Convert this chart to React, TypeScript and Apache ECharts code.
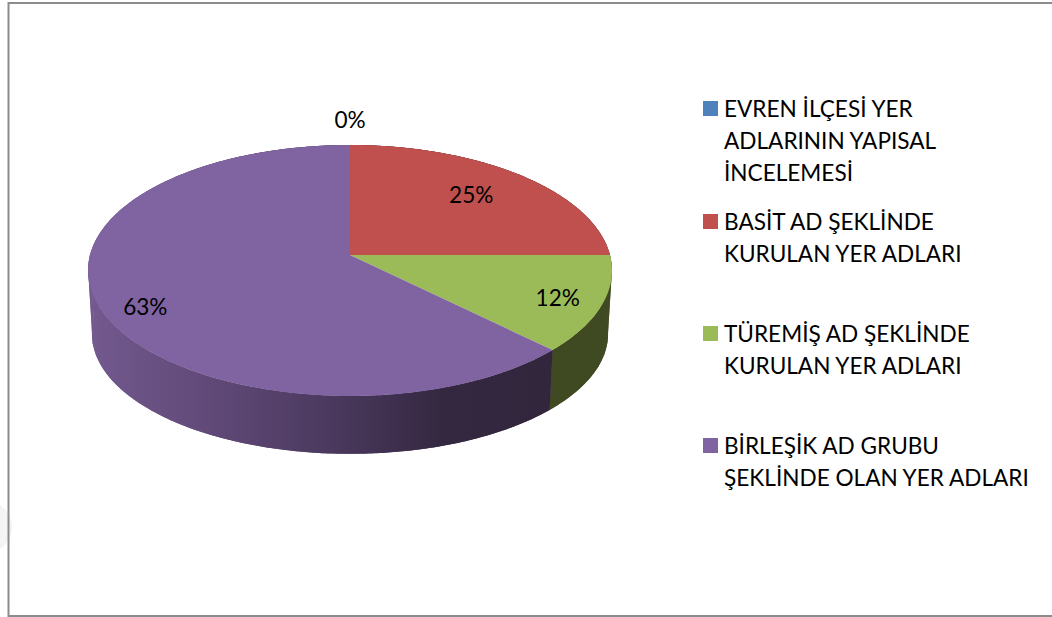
import React, { useEffect, useRef } from "react";
import * as echarts from "echarts";

const sliceNames = [
  "EVREN İLÇESİ YER\nADLARININ YAPISAL\nİNCELEMESİ",
  "BASİT AD ŞEKLİNDE\nKURULAN YER ADLARI",
  "TÜREMİŞ AD ŞEKLİNDE\nKURULAN YER ADLARI",
  "BİRLEŞİK AD GRUBU\nŞEKLİNDE OLAN YER ADLARI",
];
const sliceValues = [0, 25, 12.4, 62.6];
const topColors = ["#4f81bd", "#c0504d", "#9bbb59", "#8064a2"];

// layout
const legendLineY = [108, 221, 333, 445];
const labelRadius = [1.27, 0.7, 0.83, 0.82];
const labelDy = [0, -3, 2, 11];
const FONT = "Lato, 'Noto Sans', sans-serif";
const FONT_SIZE = 22.6;

// perspective projection of a unit disc
const CX = 350, CY = 255, A = 260, B = 123.6, K = 0.1235;
const project = (theta: number, f = 1): [number, number] => {
  const u = Math.sin(theta) * f;
  const v = -Math.cos(theta) * f;
  const d = 1 - K * v;
  return [CX + (A * u) / d, CY + (B * v) / d];
};
const lower = ([x, y]: [number, number]): [number, number] => [
  CX + (x - CX) * 0.985,
  334 + (y - 270.5) * 0.955,
];
const total = sliceValues.reduce((a, b) => a + b, 0);
const angleOf = (i: number) =>
  (sliceValues.slice(0, i).reduce((a, b) => a + b, 0) / total) * Math.PI * 2;
const arc = (a0: number, a1: number, step = 0.01) => {
  const n = Math.max(2, Math.ceil((a1 - a0) / step));
  const pts: [number, number][] = [];
  for (let i = 0; i <= n; i++) pts.push(project(a0 + ((a1 - a0) * i) / n));
  return pts;
};

const purpleSide = {
  type: "linear", global: true, x: 90, y: 0, x2: 610, y2: 0,
  colorStops: [
    { offset: 0, color: "#73598e" },
    { offset: 0.2, color: "#634b7b" },
    { offset: 0.45, color: "#4c3a60" },
    { offset: 0.68, color: "#342841" },
    { offset: 1, color: "#302539" },
  ],
};
const sideColors: any[] = ["#2a4263", "#662a28", "#404a22", purpleSide];

export default function App() {
  const ref = useRef<HTMLDivElement>(null);
  useEffect(() => {
    document.body.style.margin = "0";
    const chart = echarts.init(ref.current!, null, { renderer: "svg" });
    const data = sliceValues.map((v) => [v]);
    const graphic: any[] = [
      { type: "circle", shape: { cx: -14, cy: 527, r: 26 }, style: { fill: "#f4f4f4" }, z: 0 },
      { type: "line", shape: { x1: 8, y1: 3, x2: 1052, y2: 3 }, style: { stroke: "#8c8c8c", lineWidth: 2 } },
      { type: "line", shape: { x1: 8.5, y1: 2, x2: 8.5, y2: 617 }, style: { stroke: "#8c8c8c", lineWidth: 2 } },
      { type: "line", shape: { x1: 8, y1: 616, x2: 1052, y2: 616 }, style: { stroke: "#8c8c8c", lineWidth: 2 } },
    ];
    sliceNames.forEach((name, i) => {
      graphic.push({
        type: "rect",
        shape: { x: 703, y: legendLineY[i] - 7, width: 15, height: 15 },
        style: { fill: topColors[i] },
      });
      graphic.push({
        type: "text",
        x: 724,
        y: legendLineY[i] - 16,
        style: {
          text: name,
          fill: "#000",
          font: `${FONT_SIZE}px ${FONT}`,
          lineHeight: 32,
          align: "left",
          verticalAlign: "top",
        },
      });
    });
    chart.setOption({
      animation: false,
      backgroundColor: "#fff",
      graphic,
      series: [
        {
          type: "custom",
          coordinateSystem: "none",
          z: 1,
          data,
          renderItem: (params: any) => {
            const i = params.dataIndex;
            const a0 = angleOf(i), a1 = angleOf(i + 1);
            if (a1 <= a0) return { type: "group", children: [] };
            const top = arc(a0, a1);
            const children: any[] = [
              {
                type: "polygon",
                shape: { points: [...top, ...top.map(lower).reverse()] },
                style: { fill: sideColors[i] },
              },
            ];
            // ribs so that the wall also fills the straight silhouette edges
            const coarse = arc(a0, a1, 0.1);
            for (let k = 0; k < coarse.length - 1; k++) {
              children.push({
                type: "polygon",
                shape: {
                  points: [coarse[k], coarse[k + 1], lower(coarse[k + 1]), lower(coarse[k])],
                },
                style: { fill: sideColors[i] },
              });
            }
            return { type: "group", children };
          },
        },
        {
          type: "custom",
          coordinateSystem: "none",
          z: 2,
          data,
          renderItem: (params: any, api: any) => {
            const i = params.dataIndex;
            const a0 = angleOf(i), a1 = angleOf(i + 1);
            const [lx, ly] = project((a0 + a1) / 2, labelRadius[i]);
            const children: any[] = [];
            if (a1 > a0) {
              children.push({
                type: "polygon",
                shape: { points: [[CX, CY], ...arc(a0, a1)] },
                style: { fill: topColors[i] },
              });
            }
            children.push({
              type: "text",
              z2: 10,
              x: lx,
              y: ly + labelDy[i],
              style: {
                text: `${Math.round((api.value(0) / total) * 100)}%`,
                fill: "#000",
                font: `${FONT_SIZE}px ${FONT}`,
                align: "center",
                verticalAlign: "middle",
              },
            });
            return { type: "group", children };
          },
        },
      ],
    });
    return () => chart.dispose();
  }, []);
  return <div ref={ref} style={{ width: 1052, height: 617 }} />;
}
